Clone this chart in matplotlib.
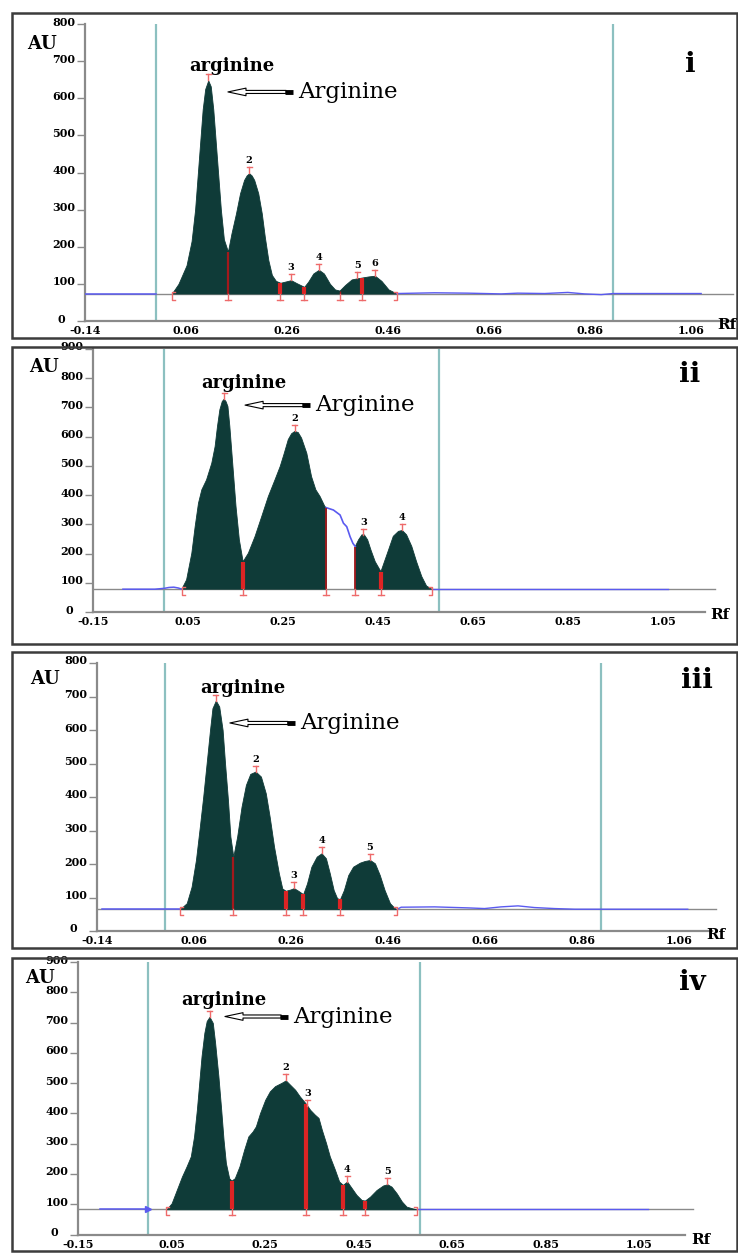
import numpy as np
import matplotlib
matplotlib.use("Agg")
import matplotlib.pyplot as plt
from matplotlib.patches import Rectangle, FancyArrowPatch
from matplotlib.transforms import ScaledTranslation

W, H = 738, 1253

# ---------------- chromatogram i ----------------
p1_rf = [0.032, 0.045, 0.061, 0.071, 0.078, 0.083, 0.088, 0.093, 0.098, 0.104,
         0.109, 0.114, 0.119, 0.124, 0.129, 0.135, 0.143, 0.150, 0.159, 0.167,
         0.175, 0.180, 0.185, 0.190, 0.195, 0.203, 0.210, 0.216, 0.223, 0.230,
         0.238, 0.247, 0.256, 0.268, 0.279, 0.294, 0.302, 0.312, 0.323, 0.333,
         0.345, 0.355, 0.364, 0.375, 0.388, 0.399, 0.408, 0.421, 0.434, 0.447,
         0.461, 0.477]
p1_au = [74, 100, 150, 215, 300, 390, 480, 570, 625, 648,
         632, 570, 480, 390, 300, 220, 187, 236, 290, 344,
         380, 392, 398, 392, 380, 344, 290, 227, 164, 124,
         108, 103, 106, 110, 102, 92, 106, 128, 138, 128,
         100, 85, 82, 97, 112, 115, 117, 120, 122, 108,
         85, 74]
p1_base = 74
p1_lead_rf = [-0.14, 0.0]
p1_lead_au = [74, 74]
p1_tail_rf = [0.477, 0.552, 0.618, 0.684, 0.717, 0.770, 0.816, 0.849, 0.882, 0.906, 1.080]
p1_tail_au = [74, 76, 75, 73, 75, 74, 77, 73, 71, 74, 74]
p1_peak_rf = [0.104, 0.185, 0.268, 0.323, 0.399, 0.434]
p1_peak_names = ["arginine", "2", "3", "4", "5", "6"]
p1_cut_rf = [0.143, 0.247, 0.294, 0.364, 0.408]
p1_gaps = []
p1_cyan = [0.0, 0.905]
p1_xticks = [-0.14, 0.06, 0.26, 0.46, 0.66, 0.86, 1.06]
p1_yticks = [0, 100, 200, 300, 400, 500, 600, 700, 800]

# ---------------- chromatogram ii ----------------
p2_rf = [0.037, 0.047, 0.058, 0.065, 0.072, 0.079, 0.089, 0.100, 0.107, 0.112,
         0.117, 0.122, 0.126, 0.130, 0.134, 0.138, 0.144, 0.151, 0.158, 0.166,
         0.177, 0.191, 0.205, 0.219, 0.233, 0.244, 0.252, 0.261, 0.268, 0.275,
         0.282, 0.289, 0.300, 0.310, 0.319, 0.328, 0.338, 0.341, 0.356, 0.370,
         0.377, 0.384, 0.391, 0.397, 0.402, 0.409, 0.416, 0.421, 0.428, 0.435,
         0.444, 0.456, 0.461, 0.472, 0.482, 0.493, 0.501, 0.510, 0.521, 0.531,
         0.542, 0.552, 0.563]
p2_au = [78, 110, 201, 292, 372, 418, 452, 509, 566, 635,
         692, 720, 728, 720, 703, 635, 509, 361, 247, 172,
         201, 258, 326, 395, 452, 498, 540, 590, 610, 618,
         614, 595, 543, 463, 418, 395, 361, 357, 349, 332,
         304, 292, 258, 235, 224, 247, 264, 264, 247, 212,
         172, 138, 161, 212, 259, 276, 279, 264, 224, 172,
         121, 89, 78]
p2_base = 78
p2_lead_rf = [-0.087, -0.02, 0.0, 0.01, 0.02, 0.03, 0.037]
p2_lead_au = [78, 78, 81, 84, 85, 82, 78]
p2_tail_rf = [0.563, 1.06]
p2_tail_au = [78, 78]
p2_peak_rf = [0.126, 0.275, 0.419, 0.501]
p2_peak_names = ["arginine", "2", "3", "4"]
p2_cut_rf = [0.166, 0.341, 0.402, 0.456]
p2_gaps = [(0.341, 0.402)]
p2_cyan = [0.0, 0.579]
p2_xticks = [-0.15, 0.05, 0.25, 0.45, 0.65, 0.85, 1.05]
p2_yticks = [0, 100, 200, 300, 400, 500, 600, 700, 800, 900]

# ---------------- chromatogram iii ----------------
p3_rf = [0.031, 0.045, 0.055, 0.064, 0.072, 0.079, 0.086, 0.093, 0.098, 0.105,
         0.112, 0.119, 0.124, 0.130, 0.135, 0.141, 0.149, 0.158, 0.167, 0.176,
         0.187, 0.198, 0.208, 0.216, 0.225, 0.235, 0.242, 0.249, 0.259, 0.266,
         0.275, 0.285, 0.293, 0.302, 0.313, 0.323, 0.332, 0.340, 0.348, 0.355,
         0.361, 0.369, 0.378, 0.388, 0.402, 0.412, 0.423, 0.433, 0.443, 0.453,
         0.464, 0.474, 0.479]
p3_au = [65, 83, 132, 212, 311, 401, 500, 600, 665, 688,
         670, 600, 500, 391, 282, 222, 282, 371, 436, 469,
         476, 461, 411, 341, 252, 172, 127, 120, 124, 128,
         120, 110, 142, 192, 222, 232, 217, 172, 122, 98,
         95, 122, 167, 192, 204, 209, 212, 202, 167, 122,
         83, 68, 65]
p3_base = 65
p3_lead_rf = [-0.13, 0.031]
p3_lead_au = [65, 65]
p3_tail_rf = [0.479, 0.487, 0.556, 0.625, 0.659, 0.693, 0.728, 0.762, 0.803, 0.845, 0.898, 1.078]
p3_tail_au = [65, 71, 72, 69, 67, 72, 75, 70, 67, 65, 65, 65]
p3_peak_rf = [0.105, 0.187, 0.266, 0.323, 0.423]
p3_peak_names = ["arginine", "2", "3", "4", "5"]
p3_cut_rf = [0.141, 0.249, 0.285, 0.361]
p3_gaps = []
p3_cyan = [0.0, 0.899]
p3_xticks = [-0.14, 0.06, 0.26, 0.46, 0.66, 0.86, 1.06]
p3_yticks = [0, 100, 200, 300, 400, 500, 600, 700, 800]

# ---------------- chromatogram iv ----------------
p4_rf = [0.039, 0.050, 0.061, 0.072, 0.082, 0.091, 0.098, 0.104, 0.109, 0.114,
         0.120, 0.125, 0.131, 0.138, 0.143, 0.150, 0.156, 0.161, 0.166, 0.173,
         0.178, 0.185, 0.195, 0.205, 0.214, 0.223, 0.230, 0.239, 0.250, 0.260,
         0.271, 0.285, 0.294, 0.303, 0.314, 0.324, 0.337, 0.346, 0.356, 0.364,
         0.371, 0.380, 0.388, 0.399, 0.408, 0.416, 0.425, 0.435, 0.445, 0.456,
         0.463, 0.474, 0.488, 0.502, 0.511, 0.520, 0.531, 0.542, 0.552, 0.563,
         0.574]
p4_au = [83, 103, 147, 191, 225, 258, 324, 412, 501, 589,
         666, 705, 719, 699, 633, 523, 412, 313, 236, 186,
         178, 186, 225, 280, 324, 340, 357, 401, 445, 473,
         490, 501, 509, 495, 478, 456, 432, 412, 396, 385,
         346, 302, 258, 214, 175, 164, 175, 153, 131, 114,
         112, 125, 147, 162, 166, 158, 136, 109, 92, 87,
         83]
p4_base = 83
p4_lead_rf = [-0.103, 0.0]
p4_lead_au = [83, 83]
p4_tail_rf = [0.574, 1.068]
p4_tail_au = [83, 83]
p4_peak_rf = [0.131, 0.294, 0.340, 0.425, 0.511]
p4_peak_names = ["arginine", "2", "3", "4", "5"]
p4_cut_rf = [0.178, 0.337, 0.416, 0.463]
p4_gaps = []
p4_cyan = [0.0, 0.581]
p4_xticks = [-0.15, 0.05, 0.25, 0.45, 0.65, 0.85, 1.05]
p4_yticks = [0, 100, 200, 300, 400, 500, 600, 700, 800, 900]

FILL = "#0f3b38"
BLUE = "#5a5af0"
CYAN = "#8cc0c0"
RED = "#dd2424"
DARKRED = "#a3191c"
PINK = "#ee6a6a"
GREY = "#8a8a8a"

plt.rcParams["font.family"] = "DejaVu Serif"
plt.rcParams["font.weight"] = "bold"

panels = [
    dict(rf=p1_rf, au=p1_au, base=p1_base, lead=(p1_lead_rf, p1_lead_au), tail=(p1_tail_rf, p1_tail_au),
         peaks=p1_peak_rf, names=p1_peak_names, cuts=p1_cut_rf, gaps=p1_gaps, cyan=p1_cyan,
         xticks=p1_xticks, yticks=p1_yticks, tag="i",
         # layout in canvas pixels: left, right, top, bottom of the axes
         px=(85, 735, 24, 321), xlim=(-0.14, 1.147), box=(12, 13, 737, 338),
         au_at=(42, 44), tag_at=(690, 65), rf_at=(727, 325), base_end=1.143,
         arg_at=(0.151, 687), arrow=(0.143, 0.272, 617), cut_lw=[1.6, 3, 3, 1, 3], tip=False),
    dict(rf=p2_rf, au=p2_au, base=p2_base, lead=(p2_lead_rf, p2_lead_au), tail=(p2_tail_rf, p2_tail_au),
         peaks=p2_peak_rf, names=p2_peak_names, cuts=p2_cut_rf, gaps=p2_gaps, cyan=p2_cyan,
         xticks=p2_xticks, yticks=p2_yticks, tag="ii",
         px=(93, 705, 349, 612), xlim=(-0.15, 1.138), box=(12, 347, 737, 644),
         au_at=(44, 367), tag_at=(690, 375), rf_at=(720, 615), base_end=1.16,
         arg_at=(0.167, 784), arrow=(0.170, 0.307, 708), cut_lw=[3, 1.3, 1.3, 3], tip=False),
    dict(rf=p3_rf, au=p3_au, base=p3_base, lead=(p3_lead_rf, p3_lead_au), tail=(p3_tail_rf, p3_tail_au),
         peaks=p3_peak_rf, names=p3_peak_names, cuts=p3_cut_rf, gaps=p3_gaps, cyan=p3_cyan,
         xticks=p3_xticks, yticks=p3_yticks, tag="iii",
         px=(97, 712, 663, 931), xlim=(-0.14, 1.128), box=(12, 652, 737, 948),
         au_at=(45, 679), tag_at=(697, 680), rf_at=(716, 935), base_end=1.136,
         arg_at=(0.161, 726), arrow=(0.134, 0.268, 621), cut_lw=[1.6, 3, 3, 3], tip=False),
    dict(rf=p4_rf, au=p4_au, base=p4_base, lead=(p4_lead_rf, p4_lead_au), tail=(p4_tail_rf, p4_tail_au),
         peaks=p4_peak_rf, names=p4_peak_names, cuts=p4_cut_rf, gaps=p4_gaps, cyan=p4_cyan,
         xticks=p4_xticks, yticks=p4_yticks, tag="iv",
         px=(78, 685, 962, 1234.5), xlim=(-0.15, 1.147), box=(12, 958, 737, 1251),
         au_at=(40, 978), tag_at=(692, 982), rf_at=(701, 1240), base_end=1.164,
         arg_at=(0.161, 776), arrow=(0.164, 0.299, 720), cut_lw=[3, 3, 3, 3], tip=True),
]

fig = plt.figure(figsize=(W / 100, H / 100), dpi=100)


def fx(x):
    return x / W


def fy(y):
    return 1 - y / H


for p in panels:
    l, r, t, b = p["px"]
    ymax = p["yticks"][-1]
    ax = fig.add_axes([fx(l), fy(b), (r - l) / W, (b - t) / H])
    ax.set_xlim(*p["xlim"])
    ax.set_ylim(0, ymax)
    sx = (p["xlim"][1] - p["xlim"][0]) / (r - l)   # data per pixel
    sy = ymax / (b - t)

    rf = np.array(p["rf"])
    au = np.array(p["au"])
    base = p["base"]

    # panel frame
    x0, y0, x1, y1 = p["box"]
    fig.add_artist(Rectangle((fx(x0), fy(y1)), (x1 - x0) / W, (y1 - y0) / H,
                             transform=fig.transFigure, fill=False, ec="#3c3c3c", lw=1.8))

    for spine in ("top", "right"):
        ax.spines[spine].set_visible(False)
    for spine in ("left", "bottom"):
        ax.spines[spine].set_color(GREY)
        ax.spines[spine].set_linewidth(1.6)

    ax.set_xticks(p["xticks"])
    ax.set_xticklabels(["%.2f" % v for v in p["xticks"]])
    ax.set_yticks(p["yticks"])
    ax.set_yticklabels([str(v) for v in p["yticks"]])
    ax.tick_params(axis="x", length=0, pad=3, labelsize=8)
    ax.tick_params(axis="y", length=6, width=1, color=GREY, pad=1, labelsize=8)
    # y labels sit a little above their ticks; the zero is pushed left clear of the x labels
    for lab in ax.get_yticklabels():
        dx = -10 if lab.get_text() == "0" else 0
        lab.set_transform(lab.get_transform() + ScaledTranslation(dx / 100, 3 / 100, fig.dpi_scale_trans))

    # track lines
    for c in p["cyan"]:
        ax.axvline(c, color=CYAN, lw=1.6, zorder=1)
    ax.plot([p["xlim"][0], p["base_end"]], [base, base], color=GREY, lw=1, zorder=1, clip_on=False)

    # densitogram
    mask = np.ones(len(rf), dtype=bool)
    for g0, g1 in p["gaps"]:
        mask &= ~((rf > g0) & (rf < g1))
        sel = (rf >= g0) & (rf <= g1)
        ax.plot(rf[sel], au[sel], color=BLUE, lw=1.2, zorder=3)
    ax.fill_between(rf, base, au, where=mask, color=FILL, lw=0.6, zorder=2)
    ax.plot(p["lead"][0], p["lead"][1], color=BLUE, lw=1.1, zorder=3)
    ax.plot(p["tail"][0], p["tail"][1], color=BLUE, lw=1.0, zorder=3)
    if p["tip"]:
        ax.plot(p["lead"][0][-1], p["lead"][1][-1], marker=">", ms=4, color=BLUE, zorder=3)

    # integration cuts
    for c, lw in zip(p["cuts"], p["cut_lw"]):
        v = np.interp(c, rf, au)
        col = DARKRED if lw < 2 else RED
        ax.plot([c, c], [base, v], color=col, lw=lw, zorder=4, solid_capstyle="butt")
        ax.plot([c, c], [base - 6 * sy, base], color=PINK, lw=1, zorder=4)
        ax.plot([c - 3 * sx, c + 3 * sx], [base - 6 * sy] * 2, color=PINK, lw=1, zorder=4)
    # start / end brackets
    for xe, d in ((rf[0], 1), (rf[-1], -1)):
        ax.plot([xe + d * 3 * sx, xe, xe, xe + d * 3 * sx],
                [base + 2 * sy, base + 2 * sy, base - 6 * sy, base - 6 * sy],
                color=PINK, lw=1, zorder=4)

    # peak apex marks and names
    for pk, name in zip(p["peaks"], p["names"]):
        v = np.interp(pk, rf, au)
        ax.plot([pk, pk], [v, v + 6 * sy], color=PINK, lw=1, zorder=4)
        ax.plot([pk - 2.5 * sx, pk + 2.5 * sx], [v + 6 * sy] * 2, color=PINK, lw=1, zorder=4)
        if name == "arginine":
            ax.text(p["arg_at"][0], p["arg_at"][1], name, fontsize=13, ha="center", va="center")
        else:
            ax.annotate(name, (pk, v + 6 * sy), xytext=(0, 2), textcoords="offset pixels",
                        ha="center", va="bottom", fontsize=7)

    # arrow pointing at arginine spot
    a_tip, a_tail, a_y = p["arrow"]
    ax.add_patch(FancyArrowPatch((a_tail - 7 * sx, a_y), (a_tip, a_y),
                                 arrowstyle="simple,head_length=13,head_width=5.5,tail_width=2.2",
                                 mutation_scale=1, fc="white", ec="black", lw=0.8,
                                 shrinkA=0, shrinkB=0, zorder=5))
    ax.plot([a_tail - 8 * sx, a_tail], [a_y, a_y], color="black", lw=3.5,
            solid_capstyle="butt", zorder=6)
    ax.text(a_tail + 5 * sx, a_y, "Arginine", fontsize=16.5, fontweight="normal",
            ha="left", va="center")

    fig.text(fx(p["au_at"][0]), fy(p["au_at"][1]), "AU", fontsize=13, ha="center", va="center")
    fig.text(fx(p["rf_at"][0]), fy(p["rf_at"][1]), "Rf", fontsize=11, ha="center", va="center")
    fig.text(fx(p["tag_at"][0]), fy(p["tag_at"][1]), p["tag"], fontsize=20, ha="center", va="center")

fig.savefig("out.png", dpi=100, facecolor="white")
